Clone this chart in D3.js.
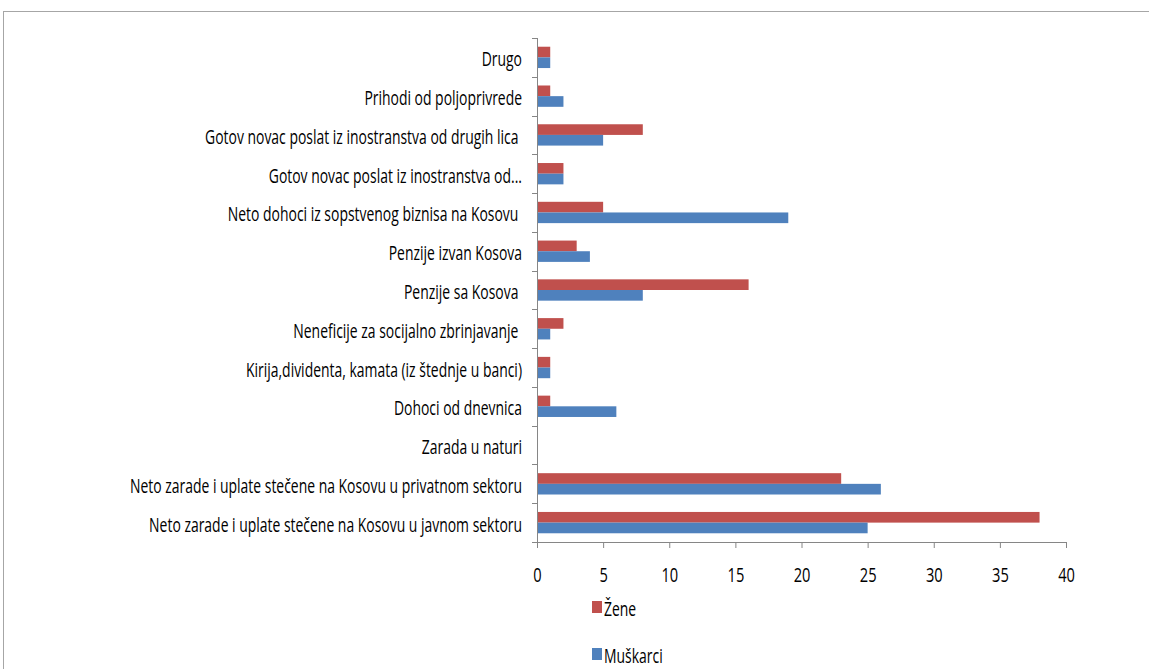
<!DOCTYPE html>
<html>
<head>
<meta charset="utf-8">
<script src="https://cdn.jsdelivr.net/npm/d3@7"></script>
<style>
  body { margin: 0; background: #fff; }
  svg text { font-family: "Open Sans", "Noto Sans", sans-serif; fill: #000; white-space: pre; }
</style>
</head>
<body>
<svg id="chart" width="1149" height="669"></svg>
<script>
// categories, top to bottom
let categories = [
  'Drugo',
  'Prihodi od poljoprivrede',
  'Gotov novac poslat iz inostranstva od drugih lica ',
  'Gotov novac poslat iz inostranstva od...',
  'Neto dohoci iz sopstvenog biznisa na Kosovu ',
  'Penzije izvan Kosova',
  'Penzije sa Kosova ',
  'Neneficije za socijalno zbrinjavanje ',
  'Kirija,dividenta, kamata (iz štednje u banci)',
  'Dohoci od dnevnica',
  'Zarada u naturi',
  'Neto zarade i uplate stečene na Kosovu u privatnom sektoru',
  'Neto zarade i uplate stečene na Kosovu u javnom sektoru'
];
let zene     = [1, 1, 8, 2, 5, 3, 16, 2, 1, 1, 0, 23, 38];
let muskarci = [1, 2, 5, 2, 19, 4, 8, 1, 1, 6, 0, 26, 25];
let seriesNames = ['Žene', 'Muškarci'];
let seriesColors = ['#C0504D', '#4F81BD'];
let xTicks = [0, 5, 10, 15, 20, 25, 30, 35, 40];

// the original font is a tall narrow one, squeeze the text horizontally
let fontSize = 19.5;
let squeeze = 0.715;

let svg = d3.select('#chart');

// outer frame
svg.append('rect')
  .attr('x', 3.5).attr('y', 11.5)
  .attr('width', 1160).attr('height', 680)
  .attr('fill', 'none').attr('stroke', '#a6a6a6');

let plotLeft = 537, plotRight = 1066, plotTop = 38, plotBottom = 542;

let x = d3.scaleLinear().domain([0, 40]).range([plotLeft, plotRight]);
let y = d3.scaleBand().domain(categories).range([plotTop, plotBottom]).paddingInner(0.45).paddingOuter(0.225);
let ySub = d3.scaleBand().domain(seriesNames).range([0, y.bandwidth()]);

let rows = categories.map(function(c, i) {
  return { cat: c, vals: [zene[i], muskarci[i]] };
});

let g = svg.selectAll('.row').data(rows).enter().append('g')
  .attr('transform', function(d) { return 'translate(0,' + y(d.cat) + ')'; });

g.selectAll('rect').data(function(d) {
  return d.vals.map(function(v, k) { return { name: seriesNames[k], v: v, k: k }; });
}).enter().append('rect')
  .attr('x', x(0))
  .attr('y', function(d) { return ySub(d.name); })
  .attr('width', function(d) { return x(d.v) - x(0); })
  .attr('height', ySub.bandwidth())
  .attr('fill', function(d) { return seriesColors[d.k]; });

// x axis
let xAxis = d3.axisBottom(x).tickValues(xTicks).tickSize(6).tickPadding(0).tickFormat(d3.format('d'));
let xg = svg.append('g').attr('transform', 'translate(0,' + plotBottom + ')').call(xAxis);
xg.select('.domain').attr('stroke', '#868686');
xg.selectAll('.tick line').attr('stroke', '#868686');
xg.selectAll('.tick text')
  .attr('y', 0).attr('dy', 0)
  .attr('font-size', fontSize + 1)
  .attr('font-family', '"Open Sans", sans-serif')
  .attr('transform', 'translate(0,40) scale(' + squeeze + ',1)');

// y axis: line and ticks at category boundaries
let boundaries = d3.range(categories.length + 1).map(function(i) {
  return plotTop + i * (plotBottom - plotTop) / categories.length;
});
svg.append('line')
  .attr('x1', plotLeft + 0.5).attr('x2', plotLeft + 0.5)
  .attr('y1', plotTop).attr('y2', plotBottom)
  .attr('stroke', '#868686');
svg.selectAll('.ytick').data(boundaries).enter().append('line')
  .attr('x1', plotLeft - 5).attr('x2', plotLeft)
  .attr('y1', function(d) { return Math.round(d) + 0.5; })
  .attr('y2', function(d) { return Math.round(d) + 0.5; })
  .attr('stroke', '#868686');

svg.selectAll('.ylab').data(categories).enter().append('text')
  .attr('transform', function(d) {
    return 'translate(522,' + (y(d) + y.bandwidth() / 2 + 9) + ') scale(' + squeeze + ',1)';
  })
  .attr('text-anchor', 'end')
  .attr('font-size', fontSize)
  .text(function(d) { return d; });

// legend
let legend = svg.selectAll('.leg').data(seriesNames).enter().append('g')
  .attr('transform', function(d, i) { return 'translate(592,' + (601 + i * 47) + ')'; });
legend.append('rect')
  .attr('width', 10).attr('height', 12)
  .attr('fill', function(d, i) { return seriesColors[i]; });
legend.append('text')
  .attr('transform', 'translate(12,15) scale(' + squeeze + ',1)')
  .attr('font-size', fontSize)
  .text(function(d) { return d; });
</script>
</body>
</html>
